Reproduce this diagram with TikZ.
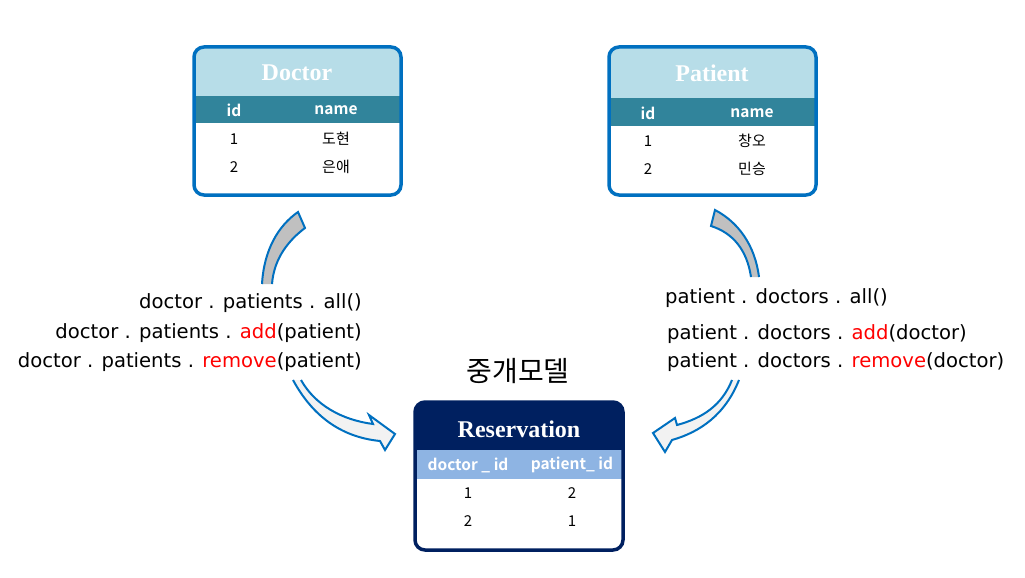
\documentclass[tikz,border=0pt]{standalone}
\usepackage{fontspec}
\setmainfont{Liberation Serif}
\newfontfamily\kr{Noto Sans CJK KR}[BoldFont={Noto Sans CJK KR Bold}]
\newfontfamily\codefont{DejaVu Sans}
\definecolor{docblue}{HTML}{0070C0}
\definecolor{hdrlight}{HTML}{B7DDE8}
\definecolor{hdrteal}{HTML}{31849B}
\definecolor{navy}{HTML}{002060}
\definecolor{resband}{HTML}{8EB4E3}
\definecolor{arrgray}{HTML}{C0C0C0}
\definecolor{arrlight}{HTML}{F2F2F2}
\definecolor{codered}{HTML}{FF0000}
\begin{document}
\begin{tikzpicture}[x=1pt,y=-1pt,
  title/.style={text=white,font=\bfseries\fontsize{24}{26}\selectfont},
  colhead/.style={text=white,font=\kr\bfseries\fontsize{15.5}{17}\selectfont},
  cell/.style={text=black,font=\kr\fontsize{15}{17}\selectfont},
  codeline/.style={text=black,font=\codefont\fontsize{19.6}{21}\selectfont,inner sep=0pt},
  arrowedge/.style={draw=docblue,line width=2pt,line join=miter},
  boxframe/.style={line width=3.5pt,rounded corners=10pt}
]
\useasboundingbox (0,0) rectangle (1025,578);

% ---------- Doctor table ----------
\fill[white,rounded corners=10pt] (194,47) rectangle (401,195);
\fill[hdrlight,rounded corners=9pt] (195,48) rectangle (400,110);
\fill[hdrteal] (195,96) rectangle (400,123);
\draw[boxframe,draw=docblue] (194,47) rectangle (401,195);
\node[title] (doctitle) at (297,73) {Doctor};
\node[colhead] (docid) at (234,110) {id};
\node[colhead] (docname) at (336,110) {name};
\node[cell] (d11) at (234,139) {1};
\node[cell] (d12) at (336,139) {도현};
\node[cell] (d21) at (234,167) {2};
\node[cell] (d22) at (336,167) {은애};

% ---------- Patient table ----------
\fill[white,rounded corners=10pt] (609,47) rectangle (816,195);
\fill[hdrlight,rounded corners=9pt] (610,48) rectangle (815,112);
\fill[hdrteal] (610,98) rectangle (815,126);
\draw[boxframe,draw=docblue] (609,47) rectangle (816,195);
\node[title] (pattitle) at (712,73) {Patient};
\node[colhead] (patid) at (648,113) {id};
\node[colhead] (patname) at (752,113) {name};
\node[cell] (p11) at (648,141) {1};
\node[cell] (p12) at (752,141) {창오};
\node[cell] (p21) at (648,169) {2};
\node[cell] (p22) at (752,169) {민승};

% ---------- Reservation table ----------
\fill[white,rounded corners=10pt] (415,402) rectangle (623,550);
\fill[navy,rounded corners=9pt] (416,403) rectangle (622,460);
\fill[resband] (416,450) rectangle (622,479);
\draw[boxframe,draw=navy] (415,402) rectangle (623,550);
\node[title] (restitle) at (519,429) {Reservation};
\node[colhead] (resdoc) at (468,465) {doctor \_ id};
\node[colhead] (respat) at (572,465) {patient\_ id};
\node[cell] (r11) at (468,493) {1};
\node[cell] (r12) at (572,493) {2};
\node[cell] (r21) at (468,521) {2};
\node[cell] (r22) at (572,521) {1};

\node[font=\kr\fontsize{28}{30}\selectfont] (label) at (518,371) {중개모델};

% ---------- code lines ----------
\node[codeline,anchor=east] (l1) at (362,303) {doctor . patients . all()};
\node[codeline,anchor=east] (l2) at (362,333) {doctor . patients . \textcolor{codered}{add}(patient)};
\node[codeline,anchor=east] (l3) at (362,362) {doctor . patients . \textcolor{codered}{remove}(patient)};
\node[codeline,anchor=west] (r1) at (665,298) {patient . doctors . all()};
\node[codeline,anchor=west] (r2) at (667,334) {patient . doctors . \textcolor{codered}{add}(doctor)};
\node[codeline,anchor=west] (r3) at (667,362) {patient . doctors . \textcolor{codered}{remove}(doctor)};

% ---------- curved block arrows ----------
% upper left (gray band)
\fill[arrgray] (262,284) .. controls (264,250) and (278,226) .. (298,212) -- (305,228) .. controls (289,240) and (274,258) .. (272,284) -- cycle;
\draw[arrowedge] (262,284) .. controls (264,250) and (278,226) .. (298,212) -- (305,228) .. controls (289,240) and (274,258) .. (272,284);
% upper right (gray band)
\fill[arrgray] (759,277) .. controls (755,245) and (738,222) .. (715,210) -- (711,226) .. controls (733,233) and (747,250) .. (751,277) -- cycle;
\draw[arrowedge] (759,277) .. controls (755,245) and (738,222) .. (715,210) -- (711,226) .. controls (733,233) and (747,250) .. (751,277);
% lower left (arrow head)
\fill[arrlight] (293,380) .. controls (312,415) and (340,437) .. (380,441) -- (385,450) -- (395,434) -- (369,415) -- (373,424) .. controls (342,420) and (315,405) .. (301,380) -- cycle;
\draw[arrowedge] (293,380) .. controls (312,415) and (340,437) .. (380,441) -- (385,450) -- (395,434) -- (369,415) -- (373,424) .. controls (342,420) and (315,405) .. (301,380);
% lower right (arrow head)
\fill[arrlight] (739,380) .. controls (725,415) and (700,432) .. (672,440) -- (665,452) -- (653,433) -- (675,418) -- (677,425) .. controls (703,418) and (722,405) .. (732,380) -- cycle;
\draw[arrowedge] (739,380) .. controls (725,415) and (700,432) .. (672,440) -- (665,452) -- (653,433) -- (675,418) -- (677,425) .. controls (703,418) and (722,405) .. (732,380);
\end{tikzpicture}
\end{document}
